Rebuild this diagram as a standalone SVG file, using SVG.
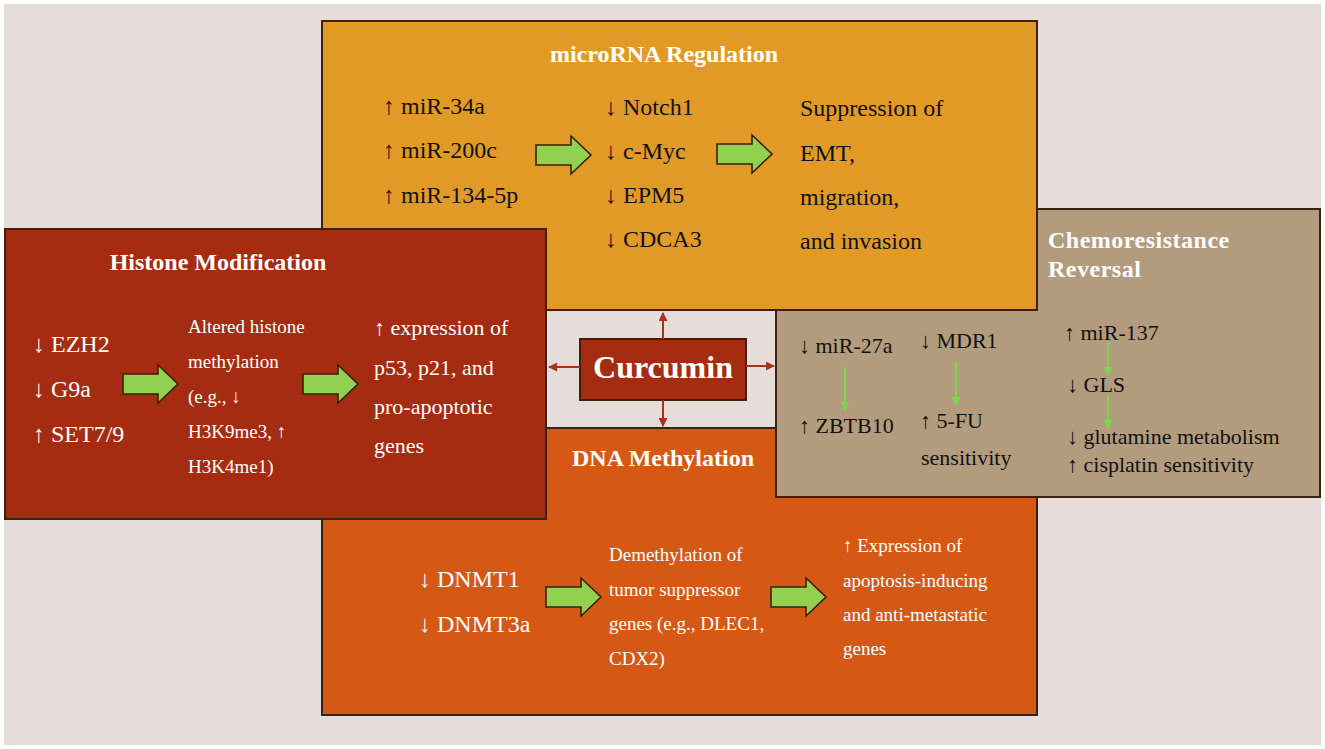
<svg xmlns="http://www.w3.org/2000/svg" width="1325" height="749" viewBox="0 0 1325 749">
<defs>
<style>
.box{stroke:#3a2110;stroke-width:2}
.t{font-family:"Liberation Serif","Times New Roman",serif}
.title{font-family:"Liberation Serif","Times New Roman",serif;font-weight:bold;font-size:24px;fill:#fff}
.big{font-size:32px}
.blk{fill:#111}
.wht{fill:#fff}
.garrow{fill:#92d050;stroke:#3a1e0a;stroke-width:1.6;stroke-linejoin:miter}
.gline{stroke:#7ed64a;stroke-width:2;fill:none}
.rline{stroke:#a8321a;stroke-width:2;fill:none}
</style>
<path id="bigArrow" d="M0,9 H35 V0 L55,19 L35,38 V29 H0 Z"/>
<marker id="gHead" viewBox="0 0 10 10" refX="9" refY="5" markerWidth="4.5" markerHeight="5" orient="auto" markerUnits="strokeWidth">
<path d="M0,0 L10,5 L0,10 Z" fill="#7ed64a"/>
</marker>
<marker id="rHead" viewBox="0 0 10 10" refX="9" refY="5" markerWidth="4.5" markerHeight="4.5" orient="auto" markerUnits="strokeWidth">
<path d="M0,0 L10,5 L0,10 Z" fill="#a8321a"/>
</marker>
</defs>
<rect x="0" y="0" width="1325" height="749" fill="#ffffff"/>
<rect x="4" y="4" width="1317" height="741" fill="#e6dddb"/>

<g id="dna-methylation">
<rect class="box" x="322" y="428" width="715" height="287" fill="#d55815"/>
<text class="title" x="663" y="466" text-anchor="middle">DNA Methylation</text>
<text class="t wht" font-size="24" x="419" y="587">↓ DNMT1</text>
<text class="t wht" font-size="24" x="419" y="632">↓ DNMT3a</text>
<use href="#bigArrow" class="garrow" x="546" y="578"/>
<text class="t wht" font-size="19" x="609" y="561">Demethylation of</text>
<text class="t wht" font-size="19" x="609" y="596">tumor suppressor</text>
<text class="t wht" font-size="19" x="609" y="630">genes (e.g., DLEC1,</text>
<text class="t wht" font-size="19" x="609" y="665">CDX2)</text>
<use href="#bigArrow" class="garrow" x="771" y="578"/>
<text class="t wht" font-size="19" x="843" y="552">↑ Expression of</text>
<text class="t wht" font-size="19" x="843" y="587">apoptosis-inducing</text>
<text class="t wht" font-size="19" x="843" y="621">and anti-metastatic</text>
<text class="t wht" font-size="19" x="843" y="655">genes</text>
</g>

<g id="chemoresistance-reversal">
<rect class="box" x="776" y="209" width="544" height="288" fill="#b29c7d"/>
<text class="title" x="1048" y="248" letter-spacing="0.5">Chemoresistance</text>
<text class="title" x="1048" y="277" letter-spacing="0.5">Reversal</text>
<text class="t blk" font-size="22" x="799" y="353">↓ miR-27a</text>
<text class="t blk" font-size="22" x="799" y="433">↑ ZBTB10</text>
<text class="t blk" font-size="22" x="920" y="348">↓ MDR1</text>
<text class="t blk" font-size="22" x="920" y="428">↑ 5-FU</text>
<text class="t blk" font-size="22" x="921" y="465">sensitivity</text>
<text class="t blk" font-size="22" x="1064" y="340">↑ miR-137</text>
<text class="t blk" font-size="22" x="1067" y="392">↓ GLS</text>
<text class="t blk" font-size="22" x="1067" y="444">↓ glutamine metabolism</text>
<text class="t blk" font-size="22" x="1067" y="472">↑ cisplatin sensitivity</text>
</g>

<g id="microrna-regulation">
<rect class="box" x="322" y="21" width="715" height="289" fill="#e29a26"/>
<text class="title" x="664" y="62" text-anchor="middle">microRNA Regulation</text>
<text class="t blk" font-size="24" x="383" y="114">↑ miR-34a</text>
<text class="t blk" font-size="24" x="383" y="158">↑ miR-200c</text>
<text class="t blk" font-size="24" x="383" y="203">↑ miR-134-5p</text>
<use href="#bigArrow" class="garrow" x="536" y="136"/>
<text class="t blk" font-size="24" x="605" y="115">↓ Notch1</text>
<text class="t blk" font-size="24" x="605" y="159">↓ c-Myc</text>
<text class="t blk" font-size="24" x="605" y="203">↓ EPM5</text>
<text class="t blk" font-size="24" x="605" y="247">↓ CDCA3</text>
<use href="#bigArrow" class="garrow" x="717" y="135"/>
<text class="t blk" font-size="24" x="800" y="116">Suppression of</text>
<text class="t blk" font-size="24" x="800" y="161">EMT,</text>
<text class="t blk" font-size="24" x="800" y="205">migration,</text>
<text class="t blk" font-size="24" x="800" y="249">and invasion</text>
</g>

<g id="histone-modification">
<rect class="box" x="5" y="229" width="541" height="290" fill="#a52c10"/>
<text class="title" x="218" y="270" text-anchor="middle">Histone Modification</text>
<text class="t wht" font-size="24" x="33" y="352">↓ EZH2</text>
<text class="t wht" font-size="24" x="33" y="397">↓ G9a</text>
<text class="t wht" font-size="24" x="33" y="442">↑ SET7/9</text>
<use href="#bigArrow" class="garrow" x="123" y="365"/>
<text class="t wht" font-size="19" x="188" y="333">Altered histone</text>
<text class="t wht" font-size="19" x="188" y="368">methylation</text>
<text class="t wht" font-size="19" x="188" y="403">(e.g., ↓</text>
<text class="t wht" font-size="19" x="188" y="438">H3K9me3, ↑</text>
<text class="t wht" font-size="19" x="188" y="473">H3K4me1)</text>
<use href="#bigArrow" class="garrow" x="303" y="365"/>
<text class="t wht" font-size="22" x="374" y="335">↑ expression of</text>
<text class="t wht" font-size="22" x="374" y="375">p53, p21, and</text>
<text class="t wht" font-size="22" x="374" y="414">pro-apoptotic</text>
<text class="t wht" font-size="22" x="374" y="453">genes</text>
</g>

<g id="curcumin">
<rect class="box" x="580" y="339" width="166" height="61" fill="#a52c10"/>
<text class="title big" x="663" y="378" text-anchor="middle">Curcumin</text>
</g>

<g id="connectors">
<line class="rline" x1="663" y1="339" x2="663" y2="313" marker-end="url(#rHead)"/>
<line class="rline" x1="663" y1="400" x2="663" y2="426" marker-end="url(#rHead)"/>
<line class="rline" x1="580" y1="367" x2="549" y2="367" marker-end="url(#rHead)"/>
<line class="rline" x1="746" y1="366" x2="774" y2="366" marker-end="url(#rHead)"/>
<line class="gline" x1="845" y1="367" x2="845" y2="410" marker-end="url(#gHead)"/>
<line class="gline" x1="956" y1="362" x2="956" y2="405" marker-end="url(#gHead)"/>
<line class="gline" x1="1108" y1="342" x2="1108" y2="375" marker-end="url(#gHead)"/>
<line class="gline" x1="1108" y1="395" x2="1108" y2="428" marker-end="url(#gHead)"/>
</g>
</svg>
